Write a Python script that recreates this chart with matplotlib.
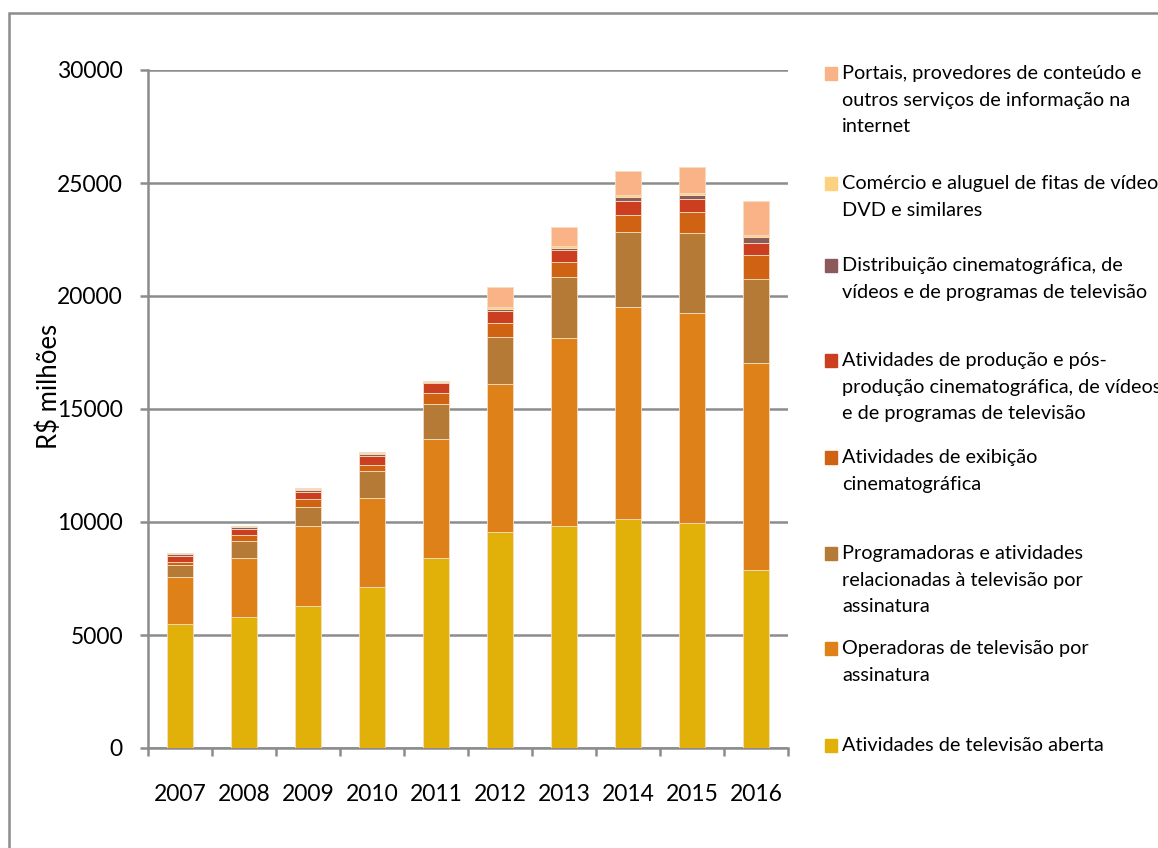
import numpy as np
import matplotlib
matplotlib.use("Agg")
import matplotlib.pyplot as plt
from matplotlib.patches import Rectangle

plt.rcParams['font.family'] = ['Lato', 'DejaVu Sans']

years = ['2007', '2008', '2009', '2010', '2011', '2012', '2013', '2014', '2015', '2016']

# R$ milhoes (bottom segment first)
tv_aberta = [5474, 5797, 6284, 7124, 8394, 9572, 9810, 10133, 9943, 7863]
operadoras = [2106, 2597, 3526, 3952, 5266, 6522, 8346, 9367, 9292, 9173]
programadoras = [518, 752, 840, 1168, 1562, 2080, 2686, 3333, 3554, 3717]
exibicao = [119, 264, 354, 279, 473, 619, 664, 752, 916, 1048]
producao = [293, 295, 337, 412, 470, 557, 517, 633, 575, 559]
distribuicao = [60, 60, 75, 75, 40, 90, 115, 164, 177, 239]
comercio = [30, 40, 60, 60, 20, 90, 88, 88, 88, 88]
portais = [30, 30, 20, 15, 15, 857, 841, 1062, 1180, 1518]

series = [tv_aberta, operadoras, programadoras, exibicao, producao,
          distribuicao, comercio, portais]
labels = [
    "Atividades de televisão aberta",
    "Operadoras de televisão por\nassinatura",
    "Programadoras e atividades\nrelacionadas à televisão por\nassinatura",
    "Atividades de exibição\ncinematográfica",
    "Atividades de produção e pós-\nprodução cinematográfica, de vídeos\ne de programas de televisão",
    "Distribuição cinematográfica, de\nvídeos e de programas de televisão",
    "Comércio e aluguel de fitas de vídeo,\nDVD e similares",
    "Portais, provedores de conteúdo e\noutros serviços de informação na\ninternet",
]
colors = ['#E1B109', '#DE8119', '#B57A35', '#D06214', '#CB3F20',
          '#8C5A5A', '#FDD27F', '#F9B387']

fig = plt.figure(figsize=(11.58, 8.48), dpi=100)
ax = fig.add_axes([148 / 1158, 100 / 848, 640 / 1158, 678 / 848])

x = np.arange(len(years))
bottom = np.zeros(len(years))
for vals, col in zip(series, colors):
    ax.bar(x, vals, width=0.4, bottom=bottom, color=col,
           edgecolor='#F6DDC0', linewidth=0.6, zorder=3)
    bottom += np.array(vals)

ax.set_xlim(-0.5, len(years) - 0.5)
ax.set_ylim(0, 30000)
ax.set_yticks(np.arange(0, 30001, 5000))
ax.set_xticks(x)
ax.set_xticklabels(years)
ax.set_xticks(np.arange(-0.5, len(years)), minor=True)

for s in ['top', 'right']:
    ax.spines[s].set_visible(False)
for s in ['left', 'bottom']:
    ax.spines[s].set_color('#8C8C8C')
    ax.spines[s].set_linewidth(1.8)
ax.grid(axis='y', color='#8C8C8C', linewidth=1.8, zorder=0)

ax.tick_params(axis='x', which='major', length=0, pad=26, labelsize=16.5)
ax.tick_params(axis='x', which='minor', length=6, width=1.8, color='#8C8C8C')
ax.tick_params(axis='y', length=6, width=1.8, color='#8C8C8C', pad=12, labelsize=16.5)
ax.set_ylabel("R$ milhões", fontsize=18.5)
ax.yaxis.set_label_coords(-0.134, 0.534)

# legend drawn by hand to match the uneven spacing
leg_y = [745, 648, 553, 457, 360, 265, 183, 73]
for lab, col, yy in zip(labels, colors, leg_y):
    fig.patches.append(Rectangle((825 / 1158, 1 - (yy + 7) / 848), 12 / 1158, 13 / 848,
                                 transform=fig.transFigure, color=col))
    fig.text(842 / 1158, 1 - (yy - 8) / 848, lab, fontsize=14.3, va='top',
             ha='left', linespacing=1.68)

# outer chart border
fig.patches.append(Rectangle((9 / 1158, -0.1), 2, 1.1 - 13 / 848,
                             transform=fig.transFigure, fill=False,
                             edgecolor='#8C8C8C', linewidth=1.8))

fig.savefig('out.png', dpi=100)
